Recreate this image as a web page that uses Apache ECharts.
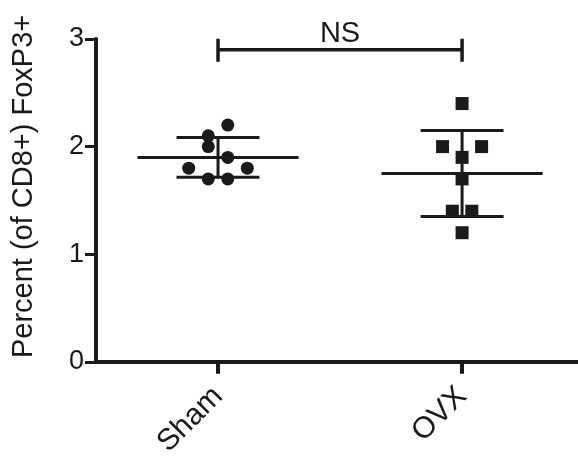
<!DOCTYPE html>
<html>
<head>
<meta charset="utf-8">
<script src="https://cdn.jsdelivr.net/npm/echarts@6/dist/echarts.min.js"></script>
<style>html,body{margin:0;padding:0;background:#fff}#c{width:578px;height:460px}</style>
</head>
<body>
<div id="c"></div>
<script>
// ---- data ----
var categories = ['Sham', 'OVX'];
var shamValues = [2.2, 2.1, 2.0, 1.9, 1.8, 1.8, 1.7, 1.7];
var shamJitter = [0.04, -0.04, -0.04, 0.04, -0.12, 0.12, -0.04, 0.04];
var ovxValues = [2.4, 2.0, 2.0, 1.9, 1.7, 1.4, 1.4, 1.2];
var ovxJitter = [0, -0.08, 0.08, 0, 0, -0.04, 0.04, 0];
var yTicks = [0, 1, 2, 3];
var yTitle = 'Percent (of CD8+) FoxP3+';
var sigLabel = 'NS';
var sigY = 2.9;

// ---- helpers ----
function mean(a){ return a.reduce(function(s,v){return s+v;},0)/a.length; }
function sd(a){ var m=mean(a); return Math.sqrt(a.reduce(function(s,v){return s+(v-m)*(v-m);},0)/(a.length-1)); }
var groups = [shamValues, ovxValues];
var jitters = [shamJitter, ovxJitter];
var catPos = categories.map(function(c,i){ return i + 0.5; });
function pts(i){ return groups[i].map(function(v,k){ return [catPos[i]+jitters[i][k], v]; }); }
var summary = groups.map(function(g,i){ return [catPos[i], mean(g), sd(g)]; });

var INK = '#1a1a1a';
var FONT = 'Liberation Sans, Arial, sans-serif';

var chart = echarts.init(document.getElementById('c'), null, {renderer:'canvas'});
chart.setOption({
  animation: false,
  backgroundColor: '#fff',
  grid: { left: 96, right: 0, top: 39, bottom: 98, containLabel: false },
  xAxis: {
    type: 'value', min: 0, max: 1.975,
    axisLine: { show: true, lineStyle: { color: INK, width: 4 } },
    axisTick: { show: true, customValues: catPos, length: 12, lineStyle: { color: INK, width: 4 } },
    axisLabel: { customValues: catPos, rotate: 45, fontSize: 30, color: INK, fontFamily: FONT, margin: 30,
      formatter: function(v){ var i = catPos.indexOf(v); return i >= 0 ? categories[i] : ''; } },
    splitLine: { show: false }
  },
  yAxis: {
    type: 'value', min: yTicks[0], max: yTicks[yTicks.length-1], interval: 1,
    name: yTitle, nameLocation: 'middle', nameGap: 58,
    nameTextStyle: { fontSize: 29, color: INK, fontFamily: FONT, padding: [0, 0, 0, 28] },
    axisLine: { show: true, lineStyle: { color: INK, width: 4 } },
    axisTick: { show: true, inside: false, length: 11, lineStyle: { color: INK, width: 3 } },
    axisLabel: { fontSize: 27, color: INK, fontFamily: FONT, margin: 12 },
    splitLine: { show: false }
  },
  series: [
    { type: 'custom', data: summary, z: 3,
      renderItem: function(params, api){
        var x = api.value(0), m = api.value(1), s = api.value(2);
        var st = { stroke: INK, lineWidth: 3 };
        function seg(x1,y1,x2,y2){ var a=api.coord([x1,y1]), b=api.coord([x2,y2]);
          return { type:'line', shape:{x1:a[0],y1:a[1],x2:b[0],y2:b[1]}, style: st }; }
        return { type:'group', children:[
          seg(x-0.33, m, x+0.33, m),
          seg(x, m-s, x, m+s),
          seg(x-0.17, m+s, x+0.17, m+s),
          seg(x-0.17, m-s, x+0.17, m-s)
        ]};
      } },
    { type: 'scatter', data: pts(0), symbol: 'circle', symbolSize: 13,
      itemStyle: { color: INK, opacity: 1 }, z: 4 },
    { type: 'scatter', data: pts(1), symbol: 'rect', symbolSize: 13,
      itemStyle: { color: INK, opacity: 1 }, z: 4 },
    { type: 'custom', data: [[catPos[0], catPos[1], sigY]], clip: false, z: 5,
      renderItem: function(params, api){
        var a = api.coord([api.value(0), api.value(2)]);
        var b = api.coord([api.value(1), api.value(2)]);
        var st = { stroke: INK, lineWidth: 3.5 };
        return { type:'group', children:[
          { type:'line', shape:{x1:a[0],y1:a[1],x2:b[0],y2:b[1]}, style: st },
          { type:'line', shape:{x1:a[0],y1:a[1]-11,x2:a[0],y2:a[1]+12}, style: st },
          { type:'line', shape:{x1:b[0],y1:b[1]-11,x2:b[0],y2:b[1]+12}, style: st },
          { type:'text', x:(a[0]+b[0])/2, y:a[1]-1, style:{ text: sigLabel, fill: INK,
            font: '29px ' + FONT, textAlign:'center', textVerticalAlign:'bottom' } }
        ]};
      } }
  ]
});
</script>
</body>
</html>
